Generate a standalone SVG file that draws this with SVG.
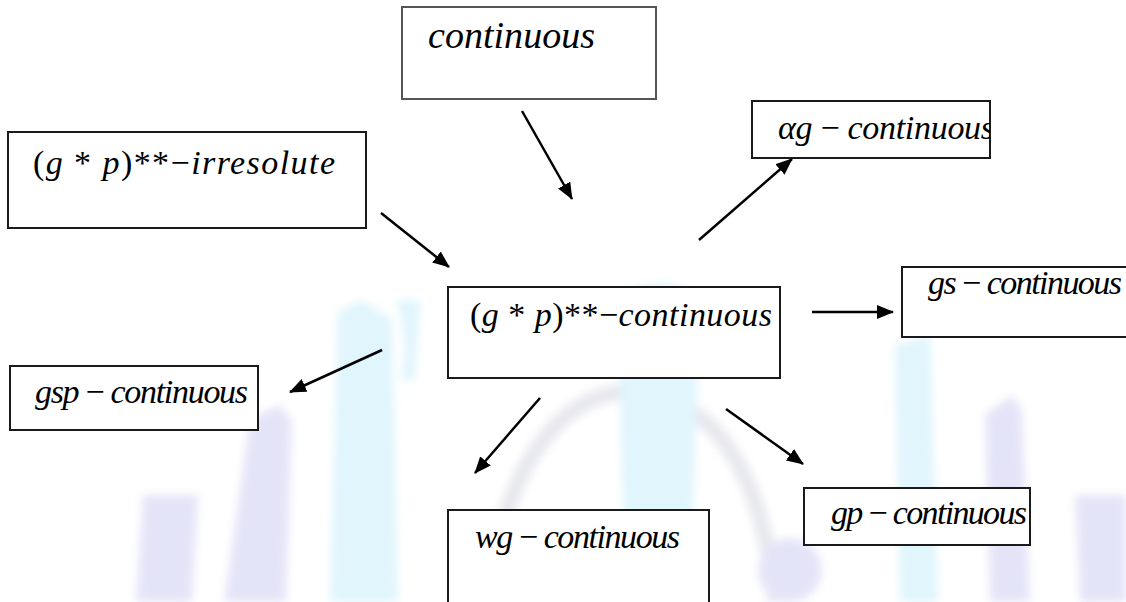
<svg xmlns="http://www.w3.org/2000/svg" width="1126" height="602" viewBox="0 0 1126 602">
<style>
.lbl{font-family:"Liberation Serif","DejaVu Serif",serif;font-size:34px;font-style:italic;fill:#000}
.up{font-style:normal}
.box{fill:#fff;stroke:#1a1a1a;stroke-width:2}
.edge{stroke:#000;stroke-width:2.5;fill:none;marker-end:url(#ah)}
.lav{fill:#dcdcf6}
.cy{fill:#d6f2fb}
</style>
<defs>
<marker id="ah" markerUnits="userSpaceOnUse" markerWidth="17" markerHeight="14" refX="16" refY="7" orient="auto">
<path d="M0,0 L17,7 L0,14 z" fill="#000"/>
</marker>
<clipPath id="clipAg"><rect x="752" y="101" width="238" height="57"/></clipPath>
<filter id="soft" x="-20%" y="-20%" width="140%" height="140%"><feGaussianBlur stdDeviation="4"/></filter>
</defs>
<rect width="1126" height="602" fill="#fff"/>
<g id="watermark" opacity="0.75" filter="url(#soft)">
<path class="lav" d="M143,495 L198,495 L192,602 L136,602 z"/>
<path class="lav" d="M250,418 L280,405 L292,420 L286,602 L224,602 z"/>
<path class="cy" d="M338,312 L362,300 L392,320 L398,602 L330,602 z"/>
<path d="M490,602 C500,470 560,395 625,392 C690,390 760,440 775,602" fill="none" stroke="#e0e0ea" stroke-width="16"/>
<path class="cy" d="M618,300 C630,278 690,278 700,300 L690,602 L625,602 z"/>
<circle class="lav" cx="790" cy="570" r="32"/>
<circle class="lav" cx="590" cy="588" r="26"/>
<path class="cy" d="M895,345 L930,335 L938,602 L900,602 z"/>
<path class="lav" d="M985,415 L1012,395 L1022,410 L1030,602 L990,602 z"/>
<path class="lav" d="M1075,495 L1126,495 L1126,602 L1080,602 z"/>
<path class="cy" d="M395,300 C405,320 408,360 400,380 L415,380 L420,300 z"/>
</g>
<g id="connectors">
<line class="edge" x1="522" y1="111" x2="572" y2="199"/>
<line class="edge" x1="381" y1="213" x2="449" y2="267"/>
<line class="edge" x1="699" y1="240" x2="792" y2="159"/>
<line class="edge" x1="812" y1="312" x2="893" y2="312"/>
<line class="edge" x1="382" y1="350" x2="290" y2="392"/>
<line class="edge" x1="540" y1="398" x2="475" y2="473"/>
<line class="edge" x1="726" y1="409" x2="803" y2="464"/>
</g>
<g id="n-continuous">
<rect class="box" x="402" y="7" width="254" height="92" style="stroke:#555"/>
<text class="lbl" x="428" y="48" style="font-size:38px" textLength="167" lengthAdjust="spacing">continuous</text>
</g>
<g id="n-irresolute">
<rect class="box" x="8" y="132" width="358" height="96"/>
<text class="lbl" x="33" y="174" textLength="302" lengthAdjust="spacing"><tspan class="up">(</tspan>g <tspan class="up">*</tspan> p<tspan class="up">)**−</tspan>irresolute</text>
</g>
<g id="n-alpha">
<rect class="box" x="752" y="101" width="238" height="57"/>
<text class="lbl" x="778" y="139" textLength="216" lengthAdjust="spacing" clip-path="url(#clipAg)">αg <tspan class="up">−</tspan> continuous</text>
</g>
<g id="n-center">
<rect class="box" x="448" y="287" width="332" height="91"/>
<text class="lbl" x="470" y="326" textLength="302" lengthAdjust="spacing"><tspan class="up">(</tspan>g <tspan class="up">*</tspan> p<tspan class="up">)**−</tspan>continuous</text>
</g>
<g id="n-gs">
<rect class="box" x="902" y="267" width="230" height="70"/>
<text class="lbl" x="928" y="294" textLength="194" lengthAdjust="spacing">gs <tspan class="up">−</tspan> continuous</text>
</g>
<g id="n-gsp">
<rect class="box" x="10" y="366" width="248" height="64"/>
<text class="lbl" x="35" y="403" textLength="213" lengthAdjust="spacing">gsp <tspan class="up">−</tspan> continuous</text>
</g>
<g id="n-wg">
<rect class="box" x="448" y="510" width="261" height="100"/>
<text class="lbl" x="475" y="548" textLength="205" lengthAdjust="spacing">wg <tspan class="up">−</tspan> continuous</text>
</g>
<g id="n-gp">
<rect class="box" x="804" y="488" width="226" height="57"/>
<text class="lbl" x="831" y="524" textLength="196" lengthAdjust="spacing">gp <tspan class="up">−</tspan> continuous</text>
</g>
</svg>
